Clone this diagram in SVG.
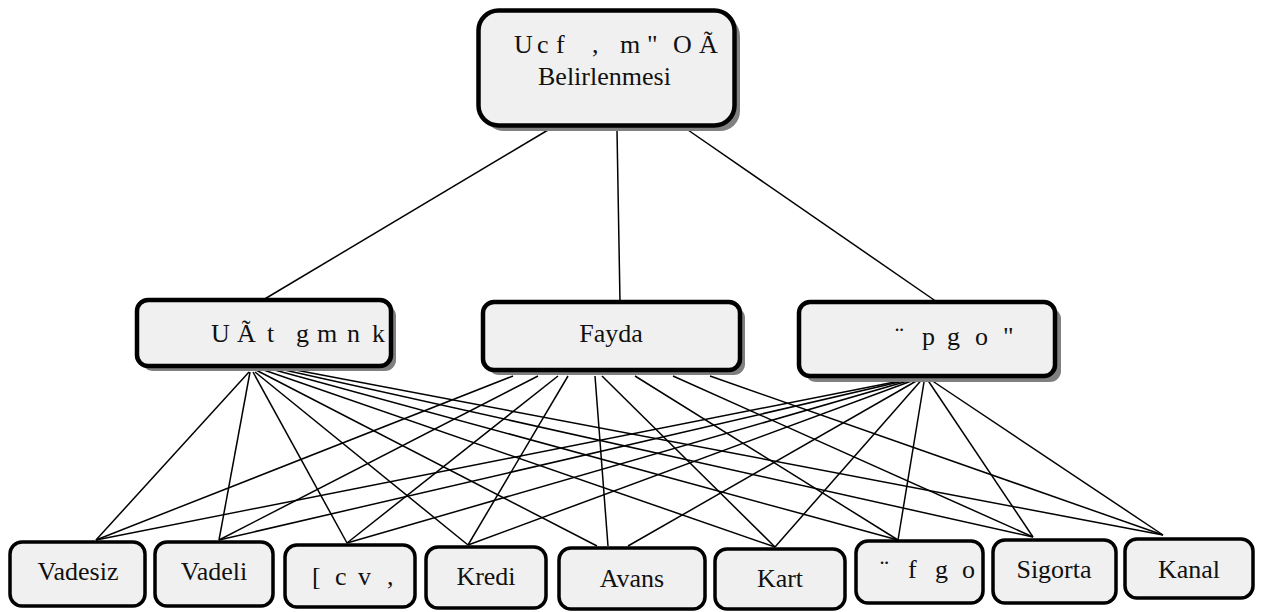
<svg xmlns="http://www.w3.org/2000/svg" width="1266" height="612" viewBox="0 0 1266 612">
<style>
.box{fill:#f0f0f0;stroke:#000;stroke-width:4.5}
.sbox{fill:#f0f0f0;stroke:#000;stroke-width:3.5}
.sh{fill:#808080}
.t{font-family:'Liberation Serif','Times New Roman','DejaVu Serif',serif;font-size:26px;fill:#111}
.c line{stroke:#000;stroke-width:1.5}
</style>
<rect width="1266" height="612" fill="#fff"/>
<g id="connectors" class="c">
<line x1="548" y1="130" x2="263" y2="300"/>
<line x1="617" y1="130" x2="620" y2="302"/>
<line x1="688" y1="130" x2="937" y2="302"/>
<line x1="249" y1="372" x2="96" y2="540"/>
<line x1="250" y1="372" x2="219" y2="540"/>
<line x1="253" y1="372" x2="347" y2="543"/>
<line x1="255" y1="372" x2="468" y2="545"/>
<line x1="256" y1="370" x2="597" y2="546"/>
<line x1="258" y1="368" x2="775" y2="547"/>
<line x1="260" y1="366" x2="898" y2="540"/>
<line x1="262" y1="365" x2="1033" y2="537"/>
<line x1="264" y1="364" x2="1163" y2="535"/>
<line x1="513" y1="376" x2="96" y2="540"/>
<line x1="538" y1="376" x2="219" y2="540"/>
<line x1="558" y1="376" x2="347" y2="543"/>
<line x1="568" y1="376" x2="468" y2="545"/>
<line x1="595" y1="376" x2="608" y2="546"/>
<line x1="602" y1="376" x2="775" y2="547"/>
<line x1="635" y1="376" x2="898" y2="540"/>
<line x1="673" y1="376" x2="1033" y2="537"/>
<line x1="710" y1="376" x2="1163" y2="535"/>
<line x1="925" y1="376" x2="96" y2="540"/>
<line x1="925" y1="376" x2="219" y2="540"/>
<line x1="925" y1="376" x2="347" y2="543"/>
<line x1="925" y1="376" x2="468" y2="545"/>
<line x1="925" y1="376" x2="628" y2="546"/>
<line x1="925" y1="376" x2="775" y2="547"/>
<line x1="925" y1="376" x2="898" y2="540"/>
<line x1="925" y1="376" x2="1033" y2="537"/>
<line x1="925" y1="376" x2="1163" y2="535"/>
</g>
<g id="node-top">
<rect class="sh" x="484" y="16" width="256" height="115" rx="20"/>
<rect class="box" x="478.5" y="10.5" width="256" height="115" rx="20"/>
<text class="t" xml:space="preserve" x="514 531 537 546 556 566 592 599 620 641 647 655 673 691 699" y="53">U c f , m " O Ã</text>
<text class="t" x="538" y="85">Belirlenmesi</text>
</g>
<g id="node-m1">
<rect class="sh" x="142" y="305" width="254" height="66" rx="11"/>
<rect class="box" x="137" y="300" width="254" height="66" rx="11"/>
<text class="t" xml:space="preserve" x="211 228 237 253 267 275 296 309 317 339 347 363 372" y="342">U Ã t g m n k</text>
</g>
<g id="node-m2">
<rect class="sh" x="488" y="307" width="257" height="68" rx="11"/>
<rect class="box" x="483" y="302" width="257" height="68" rx="11"/>
<text class="t" x="611" y="342" text-anchor="middle">Fayda</text>
</g>
<g id="node-m3">
<rect class="sh" x="805" y="308" width="256" height="74" rx="11"/>
<rect class="box" x="799" y="302" width="256" height="74" rx="11"/>
<text class="t" xml:space="preserve" x="895 905 922 935 947 960 975 989 1003" y="345">¨ p g o "</text>
</g>
<g id="node-b1">
<rect class="sbox" x="10" y="542" width="135" height="64" rx="12"/>
<text class="t" x="78" y="580" text-anchor="middle">Vadesiz</text>
</g>
<g id="node-b2">
<rect class="sbox" x="155" y="542" width="118" height="64" rx="12"/>
<text class="t" x="214" y="580" text-anchor="middle">Vadeli</text>
</g>
<g id="node-b3">
<rect class="sbox" x="285" y="545" width="130" height="62" rx="12"/>
<text class="t" xml:space="preserve" x="312 320 335 347 358 372 387" y="585">[ c v ,</text>
</g>
<g id="node-b4">
<rect class="sbox" x="426" y="547" width="120" height="61" rx="12"/>
<text class="t" x="486" y="585" text-anchor="middle">Kredi</text>
</g>
<g id="node-b5">
<rect class="sbox" x="559" y="548" width="146" height="61" rx="12"/>
<text class="t" x="632" y="587" text-anchor="middle">Avans</text>
</g>
<g id="node-b6">
<rect class="sbox" x="715" y="549" width="130" height="60" rx="12"/>
<text class="t" x="780" y="587" text-anchor="middle">Kart</text>
</g>
<g id="node-b7">
<rect class="sbox" x="856" y="541" width="127" height="62" rx="12"/>
<text class="t" xml:space="preserve" x="880 890 908 920 935 949 962" y="578">¨ f g o</text>
</g>
<g id="node-b8">
<rect class="sbox" x="993" y="540" width="123" height="63" rx="12"/>
<text class="t" x="1054" y="578" text-anchor="middle">Sigorta</text>
</g>
<g id="node-b9">
<rect class="sbox" x="1125" y="539" width="128" height="59" rx="12"/>
<text class="t" x="1189" y="578" text-anchor="middle">Kanal</text>
</g>
</svg>
